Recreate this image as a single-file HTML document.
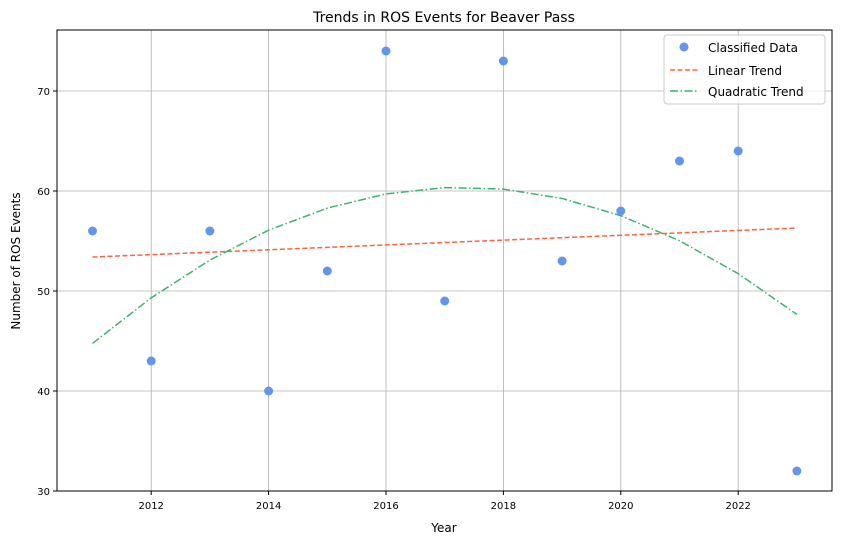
<!DOCTYPE html>
<html><head><meta charset="utf-8"><style>
body{margin:0;background:#fff;font-family:"Liberation Sans","DejaVu Sans",sans-serif;}
svg text{font-family:"DejaVu Sans","Liberation Sans",sans-serif;}
</style></head><body>
<svg id="chart" width="842" height="545" xmlns="http://www.w3.org/2000/svg">
<text x="444" y="22" text-anchor="middle" font-size="14">Trends in ROS Events for Beaver Pass</text>
<g id="grid"></g><g id="marks"></g><g id="axes"></g>
<text x="444" y="532" text-anchor="middle" font-size="12">Year</text>
<text transform="translate(20,261) rotate(-90)" text-anchor="middle" font-size="12">Number of ROS Events</text>
<g>
<rect x="664" y="35" width="161" height="69" fill="#fff" fill-opacity="0.8" stroke="#ccc" rx="3"/>
<circle cx="684" cy="47" r="4.5" fill="#6495ed"/>
<text x="708" y="52" font-size="12">Classified Data</text>
<line x1="670" y1="70" x2="698" y2="70" stroke="#ff6347" stroke-width="1.5" stroke-dasharray="5,2.5"/>
<text x="708" y="75" font-size="12">Linear Trend</text>
<line x1="670" y1="91" x2="698" y2="91" stroke="#3cb371" stroke-width="1.5" stroke-dasharray="8,2.5,1.5,2.5"/>
<text x="708" y="96" font-size="12">Quadratic Trend</text>
</g>
</svg>
<script>
const years=[2011,2012,2013,2014,2015,2016,2017,2018,2019,2020,2021,2022,2023];
const events=[56,43,56,40,52,74,49,73,53,58,63,64,32];
const xTicks=[2012,2014,2016,2018,2020,2022];
const yTicks=[30,40,50,60,70];
const L=57,R=832,T=30,B=491;
const x=v=>92.5+(v-2011)*58.7;
const y=v=>491-(v-30)*10;
const ns="http://www.w3.org/2000/svg";
function mk(t,a,p){const e=document.createElementNS(ns,t);for(const k in a)e.setAttribute(k,a[k]);p.appendChild(e);return e;}
const grid=document.getElementById('grid'),marks=document.getElementById('marks'),axes=document.getElementById('axes');
xTicks.forEach(t=>{
 const g=mk('line',{x1:x(t),x2:x(t),y1:T,y2:B,stroke:'#b0b0b0','stroke-width':0.8},grid);
 
 
 mk('line',{x1:x(t),x2:x(t),y1:B,y2:B+4,stroke:'#000'},axes);
 const tx=mk('text',{x:x(t),y:B+18,'text-anchor':'middle','font-size':10},axes);tx.textContent=t;
 
 
});
yTicks.forEach(t=>{
 const g=mk('line',{x1:L,x2:R,y1:y(t),y2:y(t),stroke:'#b0b0b0','stroke-width':0.8},grid);
 
 
 mk('line',{x1:L-4,x2:L,y1:y(t),y2:y(t),stroke:'#000'},axes);
 const tx=mk('text',{x:L-7,y:y(t)+4,'text-anchor':'end','font-size':10},axes);tx.textContent=t;
 
 
});
const fr=mk('rect',{x:L,y:T,width:R-L,height:B-T,fill:'none',stroke:'#000','stroke-width':1},axes);


const n=years.length,xs=years.map(v=>v-2017);
function solve(A,b){const m=A.length;A=A.map((r,i)=>[...r,b[i]]);for(let i=0;i<m;i++){let p=i;for(let k=i+1;k<m;k++)if(Math.abs(A[k][i])>Math.abs(A[p][i]))p=k;[A[i],A[p]]=[A[p],A[i]];for(let k=0;k<m;k++)if(k!==i){const f=A[k][i]/A[i][i];for(let j=i;j<=m;j++)A[k][j]-=f*A[i][j];}}return A.map((r,i)=>r[m]/r[i]);}
function fit(d){const A=[],b=[];for(let i=0;i<=d;i++){A.push([]);for(let j=0;j<=d;j++)A[i].push(xs.reduce((s,v)=>s+v**(i+j),0));b.push(xs.reduce((s,v,k)=>s+v**i*events[k],0));}return solve(A,b);}
const lin=fit(1),quad=fit(2);
const ev=(c,v)=>c.reduce((s,a,i)=>s+a*v**i,0);
const lp=mk('path',{d:xs.map((v,i)=>(i?'L':'M')+x(years[i])+','+y(ev(lin,v))).join(''),fill:'none',stroke:'#ff6347','stroke-width':1.5,'stroke-dasharray':'5,2.5'},marks);


const qp=mk('path',{d:xs.map((v,i)=>(i?'L':'M')+x(years[i])+','+y(ev(quad,v))).join(''),fill:'none',stroke:'#3cb371','stroke-width':1.5,'stroke-dasharray':'8,2.5,1.5,2.5'},marks);


years.forEach((yr,i)=>{
 const c=mk('circle',{cx:x(yr),cy:y(events[i]),r:4.5,fill:'#6495ed'},marks);
 
 
});
</script>
</body></html>
